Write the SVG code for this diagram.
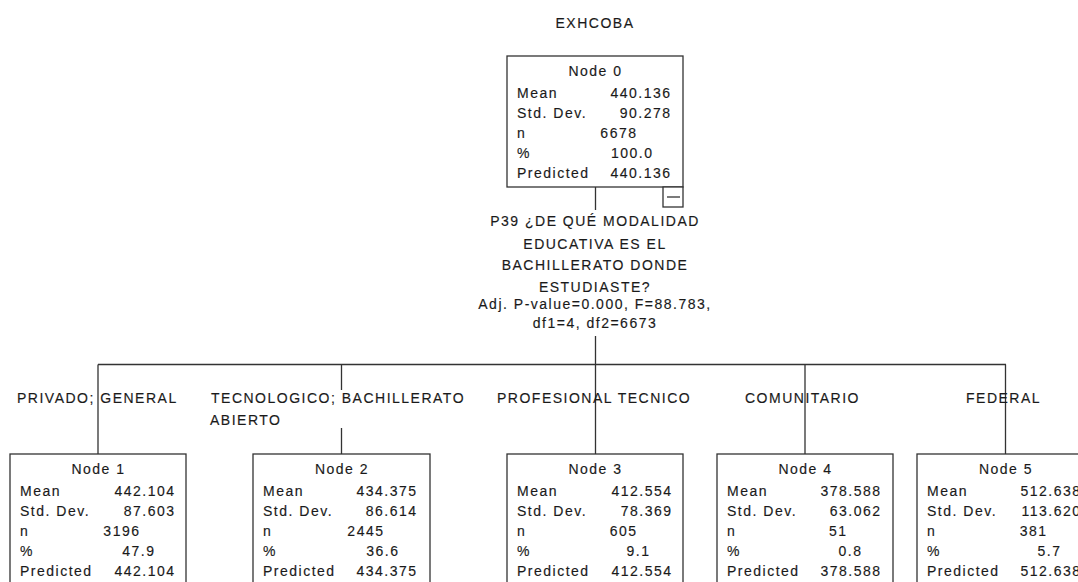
<svg xmlns="http://www.w3.org/2000/svg" width="1078" height="582" viewBox="0 0 1078 582">
<style>
text{font-family:"Liberation Sans",Arial,sans-serif;font-size:14px;letter-spacing:1.5px;fill:#1a1a1a;stroke:#1a1a1a;stroke-width:0.15}
.m{text-anchor:middle}
.e{text-anchor:end}
.box{fill:#fff;stroke:#333;stroke-width:1.3}
.ln{stroke:#333;stroke-width:1.3;fill:none}
</style>
<rect width="1078" height="582" fill="#fff"/>
<text class="m" x="595" y="28">EXHCOBA</text>
<g id="connectors">
<path class="ln" d="M595.5 187V210M595.5 336V364.5M98 364.5H1006M98 364.5V454M341.5 364.5V390M341.5 428V454M595.5 364.5V454M805 364.5V454M1005.5 364.5V454"/>
</g>
<g id="split-label">
<text class="m" x="595" y="226">P39 ¿DE QUÉ MODALIDAD</text>
<text class="m" x="595" y="248.5">EDUCATIVA ES EL</text>
<text class="m" x="595" y="270">BACHILLERATO DONDE</text>
<text class="m" x="595" y="291.5">ESTUDIASTE?</text>
<text class="m" x="595" y="308.7">Adj. P-value=0.000, F=88.783,</text>
<text class="m" x="595" y="327.7">df1=4, df2=6673</text>
</g>
<g id="edge-labels">
<text x="17" y="402.7">PRIVADO; GENERAL</text>
<text x="211" y="402.7">TECNOLOGICO; BACHILLERATO</text>
<text x="210" y="425.4">ABIERTO</text>
<text x="497" y="402.7">PROFESIONAL TECNICO</text>
<text x="745" y="402.7">COMUNITARIO</text>
<text x="966" y="402.7">FEDERAL</text>
</g>
<g id="node0">
<rect class="box" x="507" y="56" width="176" height="131"/>
<rect class="box" x="663" y="187" width="20" height="20"/>
<path class="ln" d="M667 197H680"/>
<text class="m" x="595.5" y="75.5">Node 0</text>
<text x="517" y="97.5">Mean</text><text class="e" x="671.5" y="97.5">440.136</text>
<text x="517" y="117.5">Std. Dev.</text><text class="e" x="671.5" y="117.5">90.278</text>
<text x="517" y="137.5">n</text><text class="e" x="637.5" y="137.5">6678</text>
<text x="517" y="157.5">%</text><text class="e" x="653.5" y="157.5">100.0</text>
<text x="517" y="177.5">Predicted</text><text class="e" x="671.5" y="177.5">440.136</text>
</g>
<g id="node1">
<rect class="box" x="10" y="454" width="176" height="140"/>
<text class="m" x="98.5" y="473.5">Node 1</text>
<text x="20" y="495.5">Mean</text><text class="e" x="175.5" y="495.5">442.104</text>
<text x="20" y="515.5">Std. Dev.</text><text class="e" x="175.5" y="515.5">87.603</text>
<text x="20" y="535.5">n</text><text class="e" x="140.5" y="535.5">3196</text>
<text x="20" y="555.5">%</text><text class="e" x="155.5" y="555.5">47.9</text>
<text x="20" y="575.5">Predicted</text><text class="e" x="175.5" y="575.5">442.104</text>
</g>
<g id="node2">
<rect class="box" x="253" y="454" width="177" height="140"/>
<text class="m" x="342" y="473.5">Node 2</text>
<text x="263" y="495.5">Mean</text><text class="e" x="417.5" y="495.5">434.375</text>
<text x="263" y="515.5">Std. Dev.</text><text class="e" x="417.5" y="515.5">86.614</text>
<text x="263" y="535.5">n</text><text class="e" x="384.5" y="535.5">2445</text>
<text x="263" y="555.5">%</text><text class="e" x="399.5" y="555.5">36.6</text>
<text x="263" y="575.5">Predicted</text><text class="e" x="417.5" y="575.5">434.375</text>
</g>
<g id="node3">
<rect class="box" x="507" y="454" width="176" height="140"/>
<text class="m" x="595.5" y="473.5">Node 3</text>
<text x="517" y="495.5">Mean</text><text class="e" x="672.5" y="495.5">412.554</text>
<text x="517" y="515.5">Std. Dev.</text><text class="e" x="672.5" y="515.5">78.369</text>
<text x="517" y="535.5">n</text><text class="e" x="637.5" y="535.5">605</text>
<text x="517" y="555.5">%</text><text class="e" x="650.5" y="555.5">9.1</text>
<text x="517" y="575.5">Predicted</text><text class="e" x="672.5" y="575.5">412.554</text>
</g>
<g id="node4">
<rect class="box" x="717" y="454" width="176" height="140"/>
<text class="m" x="805.5" y="473.5">Node 4</text>
<text x="727" y="495.5">Mean</text><text class="e" x="881.5" y="495.5">378.588</text>
<text x="727" y="515.5">Std. Dev.</text><text class="e" x="881.5" y="515.5">63.062</text>
<text x="727" y="535.5">n</text><text class="e" x="847.5" y="535.5">51</text>
<text x="727" y="555.5">%</text><text class="e" x="862.5" y="555.5">0.8</text>
<text x="727" y="575.5">Predicted</text><text class="e" x="881.5" y="575.5">378.588</text>
</g>
<g id="node5">
<rect class="box" x="917" y="454" width="176" height="140"/>
<text class="m" x="1006" y="473.5">Node 5</text>
<text x="927" y="495.5">Mean</text><text class="e" x="1081.5" y="495.5">512.638</text>
<text x="927" y="515.5">Std. Dev.</text><text class="e" x="1081.5" y="515.5">113.620</text>
<text x="927" y="535.5">n</text><text class="e" x="1047.5" y="535.5">381</text>
<text x="927" y="555.5">%</text><text class="e" x="1061.5" y="555.5">5.7</text>
<text x="927" y="575.5">Predicted</text><text class="e" x="1081.5" y="575.5">512.638</text>
</g>
</svg>
